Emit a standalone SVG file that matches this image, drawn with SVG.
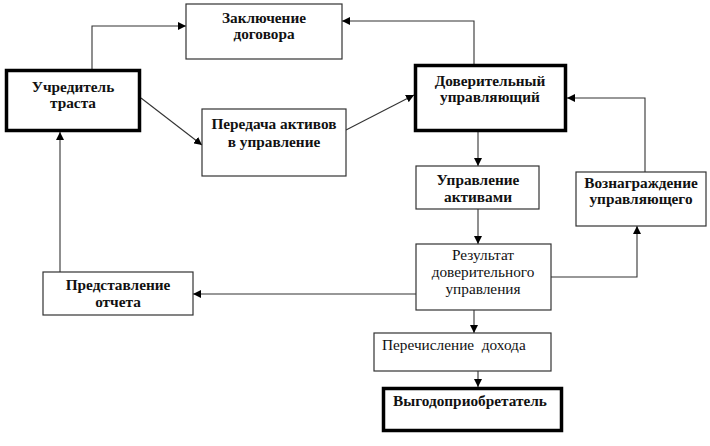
<svg xmlns="http://www.w3.org/2000/svg" width="710" height="446" viewBox="0 0 710 446">
<defs>
<marker id="ah" markerWidth="8" markerHeight="8" refX="8" refY="4" orient="auto" markerUnits="userSpaceOnUse">
<path d="M0,0 L8,4 L0,8 Z" fill="#000"/>
</marker>
<style>
.box{fill:#fff;stroke:#333;stroke-width:1.2}
.thick{fill:#fff;stroke:#000;stroke-width:3.5}
.t{font-family:"Liberation Serif","Times New Roman",serif;font-size:15.3px;font-weight:bold;fill:#111;text-anchor:middle}
.r{font-family:"Liberation Serif","Times New Roman",serif;font-size:15.3px;fill:#111;text-anchor:middle}
.l{text-anchor:start}
.c{fill:none;stroke:#333;stroke-width:1.1;marker-end:url(#ah)}
</style>
</defs>
<rect width="710" height="446" fill="#fff"/>
<g id="connectors">
<path class="c" d="M92,69 V26 H186"/>
<path class="c" d="M474,64 V21 H342"/>
<path class="c" d="M141,98 L202,145"/>
<path class="c" d="M346,130 L414,95"/>
<path class="c" d="M645,172 V98 H567"/>
<path class="c" d="M478,132 V166"/>
<path class="c" d="M478,209 V244"/>
<path class="c" d="M551,277 H637 V226"/>
<path class="c" d="M416,294 H193"/>
<path class="c" d="M60,272 V132"/>
<path class="c" d="M474,310 V333"/>
<path class="c" d="M478,371 V387"/>
</g>
<g id="zaklyuchenie">
<rect class="box" x="186" y="4" width="156" height="55"/>
<text class="t" x="264" y="23">Заключение</text>
<text class="t" x="264" y="39">договора</text>
</g>
<g id="uchreditel">
<rect class="thick" x="6.5" y="70.5" width="133" height="60"/>
<text class="t" x="73" y="92">Учредитель</text>
<text class="t" x="73" y="108">траста</text>
</g>
<g id="peredacha">
<rect class="box" x="202" y="109" width="144" height="67"/>
<text class="t" x="274" y="129">Передача активов</text>
<text class="t" x="274" y="147">в управление</text>
</g>
<g id="doveritelny">
<rect class="thick" x="415.5" y="65.5" width="150" height="65"/>
<text class="t" x="490" y="86">Доверительный</text>
<text class="t" x="490" y="102">управляющий</text>
</g>
<g id="upravlenie">
<rect class="box" x="416" y="166" width="123" height="43"/>
<text class="t" x="478" y="185">Управление</text>
<text class="t" x="478" y="202">активами</text>
</g>
<g id="voznagrazhdenie">
<rect class="box" x="576" y="172" width="130" height="54"/>
<text class="t" x="641" y="188">Вознаграждение</text>
<text class="t" x="641" y="204">управляющего</text>
</g>
<g id="rezultat">
<rect class="box" x="416" y="244" width="135" height="66"/>
<text class="r" x="483" y="260">Результат</text>
<text class="r" x="483" y="277">доверительного</text>
<text class="r" x="483" y="294">управления</text>
</g>
<g id="predstavlenie">
<rect class="box" x="43" y="272" width="150" height="43"/>
<text class="t" x="118" y="290">Представление</text>
<text class="t" x="118" y="307">отчета</text>
</g>
<g id="perechislenie">
<rect class="box" x="374" y="333" width="177" height="38"/>
<text class="r l" x="382" y="350" xml:space="preserve">Перечисление  дохода</text>
</g>
<g id="vygodopriobretatel">
<rect class="thick" x="383.5" y="388.5" width="178" height="42"/>
<text class="t l" x="393" y="406">Выгодоприобретатель</text>
</g>
</svg>
